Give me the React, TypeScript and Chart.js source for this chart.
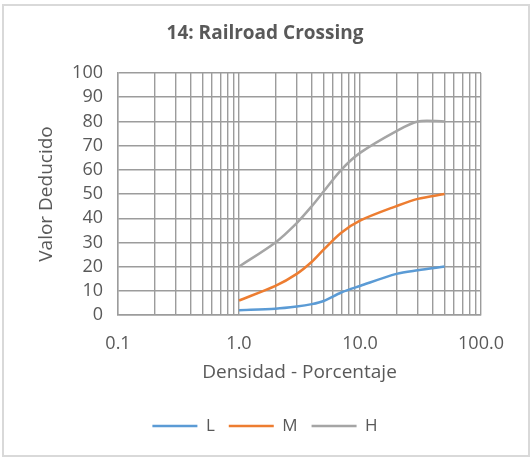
import React, { useEffect, useRef } from "react";
import { Chart, registerables } from "chart.js";
Chart.register(...registerables);

const chartTitle = "14: Railroad Crossing";
const xTitle = "Densidad - Porcentaje";
const yTitle = "Valor Deducido";
const densidad = [1, 2, 3, 4, 5, 7, 10, 20, 30, 50];
const seriesL = [2, 2.6, 3.5, 4.5, 5.8, 9.3, 12, 17, 18.5, 20];
const seriesM = [6, 12, 17, 22, 27, 34, 39, 45, 48, 50];
const seriesH = [20, 30, 38, 45, 51, 60, 67, 76, 80, 80];
const xTickValues = [
  0.1, 0.2, 0.3, 0.4, 0.5, 0.6, 0.7, 0.8, 0.9,
  1, 2, 3, 4, 5, 6, 7, 8, 9,
  10, 20, 30, 40, 50, 60, 70, 80, 90,
  100,
];

const FONT = "'Open Sans', 'Noto Sans', sans-serif";
const TEXT = "#595959";
const GRID = "#9c9c9c";

export default function App() {
  const ref = useRef<HTMLCanvasElement>(null);
  useEffect(() => {
    document.body.style.margin = "0";
    const toPts = (ys: number[]) => densidad.map((x, i) => ({ x, y: ys[i] }));
    const ds = (label: string, ys: number[], color: string) => ({
      label,
      data: toPts(ys),
      borderColor: color,
      backgroundColor: color,
      borderWidth: 2.5,
      pointRadius: 0,
      pointHoverRadius: 0,
      tension: 0.3,
      fill: false,
    });
    const chart = new Chart(ref.current!, {
      type: "line",
      data: {
        datasets: [
          ds("L", seriesL, "#5b9bd5"),
          ds("M", seriesM, "#ed7d31"),
          ds("H", seriesH, "#a5a5a5"),
        ],
      },
      options: {
        responsive: false,
        animation: false,
        layout: { padding: { left: 0, right: 0, top: 0, bottom: 12.5 } },
        plugins: {
          tooltip: { enabled: false },
          title: {
            display: true,
            text: chartTitle,
            color: TEXT,
            font: { family: FONT, size: 19, weight: "bold" },
            padding: { top: 22.6, bottom: 27.6 },
          },
          legend: {
            display: true,
            position: "bottom",
            labels: {
              color: TEXT,
              font: { family: FONT, size: 17 },
              usePointStyle: true,
              pointStyle: "line",
              pointStyleWidth: 45,
              padding: 14,
            },
          },
        },
        scales: {
          x: {
            type: "logarithmic",
            min: 0.1,
            max: 100,
            afterBuildTicks: (scale: any) => {
              scale.ticks = xTickValues.map((v) => ({ value: v }));
            },
            afterFit: (scale: any) => {
              scale.height = 88.5;
            },
            ticks: {
              autoSkip: false,
              maxRotation: 0,
              minRotation: 0,
              padding: 18,
              color: TEXT,
              font: { family: FONT, size: 18 },
              callback: (value: any) => {
                const v = Number(value);
                const l = Math.log10(v);
                return Math.abs(l - Math.round(l)) < 1e-9 ? v.toFixed(1) : "";
              },
            },
            grid: { color: GRID, lineWidth: 1.4, drawTicks: false },
            border: { color: GRID, width: 1.4 },
            title: {
              display: true,
              text: xTitle,
              color: TEXT,
              font: { family: FONT, size: 19 },
              padding: { top: 0, bottom: 20 },
            },
          },
          y: {
            type: "linear",
            min: 0,
            max: 100,
            afterFit: (scale: any) => {
              scale.width = 118;
            },
            ticks: {
              stepSize: 10,
              autoSkip: false,
              padding: 15,
              color: TEXT,
              font: { family: FONT, size: 18 },
            },
            grid: { color: GRID, lineWidth: 1.4, drawTicks: false },
            border: { color: GRID, width: 1.4 },
            title: {
              display: true,
              text: yTitle,
              color: TEXT,
              font: { family: FONT, size: 19 },
              padding: { top: 35.6, bottom: 0 },
            },
          },
          yRight: {
            type: "linear",
            position: "right",
            min: 0,
            max: 100,
            afterFit: (scale: any) => {
              scale.width = 49;
            },
            ticks: { display: false },
            grid: { display: false, drawTicks: false },
            border: { display: false },
          },
        },
      },
    });
    return () => chart.destroy();
  }, []);
  return (
    <div style={{ position: "relative", width: 530, height: 457, background: "#fff" }}>
      <canvas ref={ref} width={530} height={457} style={{ display: "block" }} />
      <div
        style={{
          position: "absolute",
          left: 2,
          top: 4,
          width: 528,
          height: 453,
          boxSizing: "border-box",
          border: "2px solid #d9d9d9",
          pointerEvents: "none",
        }}
      />
    </div>
  );
}
